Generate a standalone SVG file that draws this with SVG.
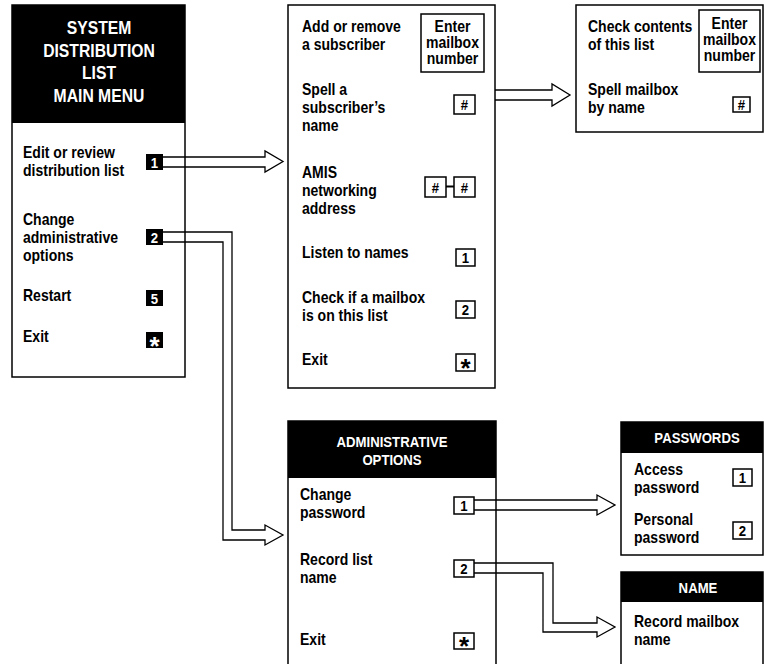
<svg xmlns="http://www.w3.org/2000/svg" width="764" height="664" viewBox="0 0 764 664">
<style>
text{font-family:"Liberation Sans",Arial,sans-serif;font-weight:bold;font-size:16.5px;fill:#000}
.hd{fill:#fff;text-anchor:middle}
.h16{font-size:18.5px}
.h13{font-size:15.5px}
.box{fill:#fff;stroke:#000;stroke-width:1.5}
.bar{fill:#000}
.key{fill:#fff;stroke:#000;stroke-width:1.5}
.bkey{fill:#000}
.kt{text-anchor:middle;font-size:15.5px}
.bkt{text-anchor:middle;font-size:15.5px;fill:#fff}
.star{text-anchor:middle;font-size:26px}
.bstar{text-anchor:middle;font-size:26px;fill:#fff}
.mid{text-anchor:middle}
.side{fill:none;stroke:#000;stroke-width:1.5}
.arr{fill:none;stroke:#000;stroke-width:1.3;stroke-linejoin:miter}
</style>

<g id="main-menu">
<rect class="box" x="12" y="5" width="173" height="372"/>
<rect class="bar" x="12" y="5" width="173" height="118"/>
<text class="hd h16" transform="matrix(.85 0 0 1 99 34)">SYSTEM</text>
<text class="hd h16" transform="matrix(.85 0 0 1 99 56.5)">DISTRIBUTION</text>
<text class="hd h16" transform="matrix(.85 0 0 1 99 79)">LIST</text>
<text class="hd h16" transform="matrix(.85 0 0 1 99 101.5)">MAIN MENU</text>
<text transform="matrix(.85 0 0 1 23 158)">Edit or review</text>
<text transform="matrix(.85 0 0 1 23 176)">distribution list</text>
<rect class="bkey" x="146" y="154" width="17" height="16"/>
<text class="bkt" transform="matrix(.85 0 0 1 154.5 167.5)">1</text>
<text transform="matrix(.85 0 0 1 23 225)">Change</text>
<text transform="matrix(.85 0 0 1 23 243)">administrative</text>
<text transform="matrix(.85 0 0 1 23 261)">options</text>
<rect class="bkey" x="146" y="229" width="17" height="16"/>
<text class="bkt" transform="matrix(.85 0 0 1 154.5 242.5)">2</text>
<text transform="matrix(.85 0 0 1 23 301)">Restart</text>
<rect class="bkey" x="146" y="290" width="17" height="16"/>
<text class="bkt" transform="matrix(.85 0 0 1 154.5 303.5)">5</text>
<text transform="matrix(.85 0 0 1 23 342)">Exit</text>
<rect class="bkey" x="146" y="332" width="17" height="16"/>
<text class="bstar" x="154.5" y="355">*</text>
</g>

<g id="edit-list">
<rect class="box" x="288" y="5" width="207" height="383"/>
<text transform="matrix(.85 0 0 1 302 32)">Add or remove</text>
<text transform="matrix(.85 0 0 1 302 50)">a subscriber</text>
<rect class="key" x="421" y="14" width="63" height="58"/>
<text class="mid" transform="matrix(.85 0 0 1 452.5 32)">Enter</text>
<text class="mid" transform="matrix(.85 0 0 1 452.5 48)">mailbox</text>
<text class="mid" transform="matrix(.85 0 0 1 452.5 64)">number</text>
<text transform="matrix(.85 0 0 1 302 95)">Spell a</text>
<text transform="matrix(.85 0 0 1 302 113)">subscriber’s</text>
<text transform="matrix(.85 0 0 1 302 131)">name</text>
<rect class="key" x="454" y="95" width="21" height="19"/>
<text class="kt" transform="matrix(.85 0 0 1 464.5 110)">#</text>
<text transform="matrix(.85 0 0 1 302 178)">AMIS</text>
<text transform="matrix(.85 0 0 1 302 196)">networking</text>
<text transform="matrix(.85 0 0 1 302 214)">address</text>
<rect class="key" x="425" y="177" width="21" height="20"/>
<text class="kt" transform="matrix(.85 0 0 1 435.5 192.5)">#</text>
<line x1="446" y1="186.5" x2="454" y2="186.5" stroke="#000" stroke-width="2"/>
<rect class="key" x="454" y="177" width="21" height="20"/>
<text class="kt" transform="matrix(.85 0 0 1 464.5 192.5)">#</text>
<text transform="matrix(.85 0 0 1 302 258)">Listen to names</text>
<rect class="key" x="456" y="249" width="19" height="17"/>
<text class="kt" transform="matrix(.85 0 0 1 465.5 263)">1</text>
<text transform="matrix(.85 0 0 1 302 303)">Check if a mailbox</text>
<text transform="matrix(.85 0 0 1 302 321)">is on this list</text>
<rect class="key" x="456" y="301" width="19" height="17"/>
<text class="kt" transform="matrix(.85 0 0 1 465.5 315)">2</text>
<text transform="matrix(.85 0 0 1 302 365)">Exit</text>
<rect class="key" x="456" y="354" width="19" height="17"/>
<text class="star" x="465.5" y="377">*</text>
</g>

<g id="check-list">
<rect class="box" x="576" y="5" width="187" height="127"/>
<text transform="matrix(.85 0 0 1 588 32)">Check contents</text>
<text transform="matrix(.85 0 0 1 588 50)">of this list</text>
<rect class="key" x="699" y="10" width="61" height="62"/>
<text class="mid" transform="matrix(.85 0 0 1 729.5 29)">Enter</text>
<text class="mid" transform="matrix(.85 0 0 1 729.5 45)">mailbox</text>
<text class="mid" transform="matrix(.85 0 0 1 729.5 61)">number</text>
<text transform="matrix(.85 0 0 1 588 95)">Spell mailbox</text>
<text transform="matrix(.85 0 0 1 588 113)">by name</text>
<rect class="key" x="733" y="97" width="17" height="15"/>
<text class="kt" transform="matrix(.85 0 0 1 741.5 110)">#</text>
</g>

<g id="admin-options">
<path class="side" d="M288,664 V421 H496 V664"/>
<rect class="bar" x="288" y="421" width="208" height="57"/>
<text class="hd h13" transform="matrix(.85 0 0 1 392 447)">ADMINISTRATIVE</text>
<text class="hd h13" transform="matrix(.85 0 0 1 392 465)">OPTIONS</text>
<text transform="matrix(.85 0 0 1 300 500)">Change</text>
<text transform="matrix(.85 0 0 1 300 518)">password</text>
<rect class="key" x="454" y="497" width="20" height="17"/>
<text class="kt" transform="matrix(.85 0 0 1 464 511)">1</text>
<text transform="matrix(.85 0 0 1 300 565)">Record list</text>
<text transform="matrix(.85 0 0 1 300 583)">name</text>
<rect class="key" x="454" y="560" width="20" height="17"/>
<text class="kt" transform="matrix(.85 0 0 1 464 574)">2</text>
<text transform="matrix(.85 0 0 1 300 645)">Exit</text>
<rect class="key" x="454" y="633" width="20" height="16"/>
<text class="star" x="464" y="655">*</text>
</g>

<g id="passwords">
<rect class="box" x="621" y="422" width="142" height="133"/>
<rect class="bar" x="621" y="422" width="142" height="31"/>
<text class="hd h13" transform="matrix(.85 0 0 1 697 443)">PASSWORDS</text>
<text transform="matrix(.85 0 0 1 634 475)">Access</text>
<text transform="matrix(.85 0 0 1 634 493)">password</text>
<rect class="key" x="733" y="469" width="19" height="17"/>
<text class="kt" transform="matrix(.85 0 0 1 742.5 483)">1</text>
<text transform="matrix(.85 0 0 1 634 525)">Personal</text>
<text transform="matrix(.85 0 0 1 634 543)">password</text>
<rect class="key" x="733" y="522" width="19" height="17"/>
<text class="kt" transform="matrix(.85 0 0 1 742.5 536)">2</text>
</g>

<g id="name">
<path class="side" d="M621,664 V572 H763 V664"/>
<rect class="bar" x="621" y="572" width="142" height="30"/>
<text class="hd h13" transform="matrix(.85 0 0 1 698 593)">NAME</text>
<text transform="matrix(.85 0 0 1 634 627)">Record mailbox</text>
<text transform="matrix(.85 0 0 1 634 645)">name</text>
</g>

<g id="connectors">
<path class="arr" d="M163,157 H265 V151 L283,161.5 L265,172 V167 H163"/>
<path class="arr" d="M495,90 H552 V84 L570,95 L552,106 V100 H495"/>
<path class="arr" d="M163,232 H232 V530 H265 V525 L283,535 L265,545 V540 H223 V242 H163"/>
<path class="arr" d="M474,500 H597 V495 L615,505 L597,515 V510 H474"/>
<path class="arr" d="M474,563 H553 V623 H597 V617 L615,627 L597,637 V632 H543 V573 H474"/>
</g>
</svg>
